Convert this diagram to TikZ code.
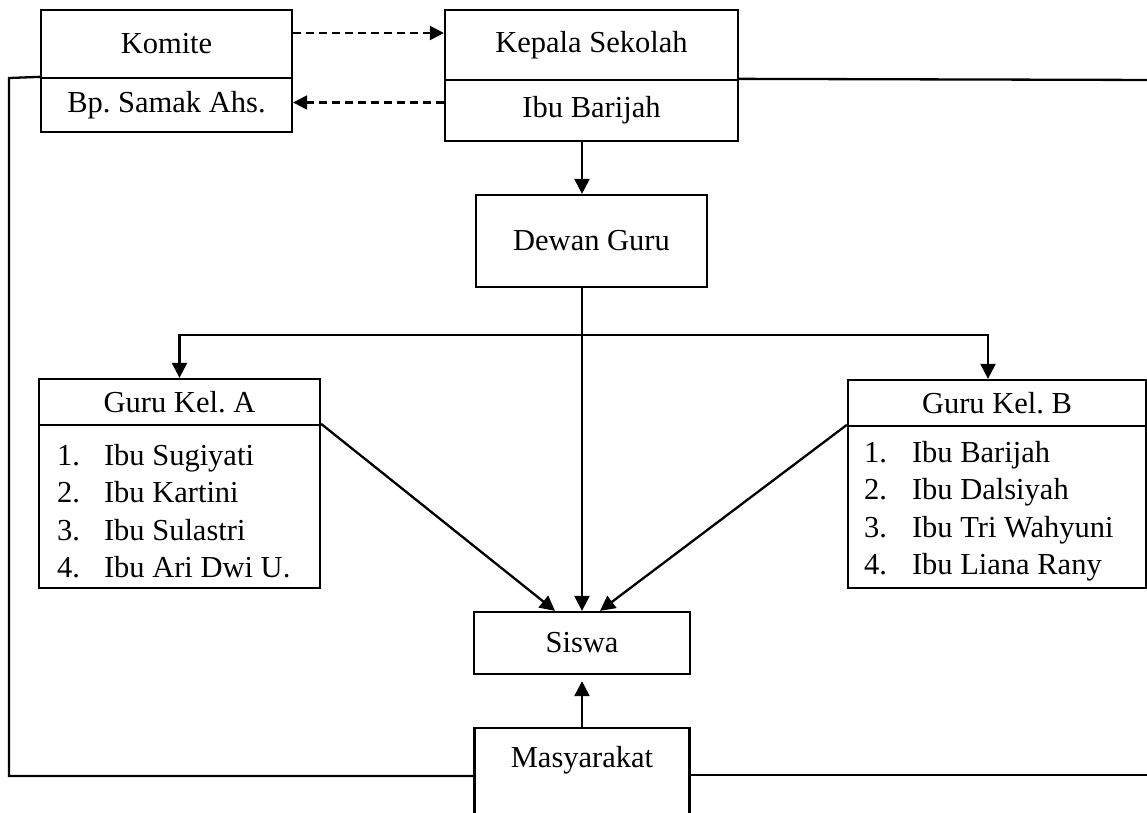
\documentclass[tikz,border=0pt]{standalone}
\usepackage{fontspec}
\setmainfont{Liberation Serif}
\usetikzlibrary{arrows.meta,calc}
\frenchspacing
\begin{document}
\begin{tikzpicture}[x=1pt,y=-1pt,
  box/.style={draw, line width=2.3pt, inner sep=0pt, font=\fontsize{30.5}{37.5}\selectfont},
  txt/.style={inner sep=0pt, font=\fontsize{30.5}{37.5}\selectfont},
  arr/.style={line width=2.3pt, -{Triangle[length=15pt,width=15pt]}},
  darr/.style={line width=2.3pt, dash pattern=on 8pt off 5pt, -{Triangle[length=14pt,width=14pt]}},
  ln/.style={line width=2.3pt}]
\clip (0,0) rectangle (1147,812);
\fill[white] (0,0) rectangle (1147,812);
% boxes
\node[box, minimum width=251pt, minimum height=68pt] (kom1) at (166.5,44) {Komite};
\node[box, minimum width=251pt, minimum height=54pt] (kom2) at (166.5,105) {Bp. Samak Ahs.};
\node[box, minimum width=293pt, minimum height=70pt] (kep1) at (591.5,45) {Kepala Sekolah};
\node[box, minimum width=293pt, minimum height=61pt] (kep2) at (591.5,110.5) {Ibu Barijah};
\node[box, minimum width=231pt, minimum height=92pt] (dewan) at (591.5,241) {Dewan Guru};
\node[box, minimum width=281pt, minimum height=46pt] (ga1) at (179.5,402) {Guru Kel. A};
\node[box, minimum width=281pt, minimum height=163pt] (ga2) at (179.5,506.5) {};
\node[box, minimum width=298pt, minimum height=46pt] (gb1) at (997,403) {Guru Kel. B};
\node[box, minimum width=298pt, minimum height=162pt] (gb2) at (997,507) {};
\node[box, minimum width=216pt, minimum height=62pt] (siswa) at (582,643) {Siswa};
\node[box, minimum width=215pt, minimum height=110pt] (masy) at (582,783) {};
\node[txt] (masyt) at (582,760) {Masyarakat};
% lists
\node[txt, anchor=west, align=left] (gal) at ($(ga2.west)+(19,4.5)$)
  {\makebox[47pt][l]{1.}Ibu Sugiyati\\ \makebox[47pt][l]{2.}Ibu Kartini\\ \makebox[47pt][l]{3.}Ibu Sulastri\\ \makebox[47pt][l]{4.}Ibu Ari Dwi U.};
\node[txt, anchor=west, align=left] (gbl) at ($(gb2.west)+(17,4)$)
  {\makebox[48pt][l]{1.}Ibu Barijah\\ \makebox[48pt][l]{2.}Ibu Dalsiyah\\ \makebox[48pt][l]{3.}Ibu Tri Wahyuni\\ \makebox[48pt][l]{4.}Ibu Liana Rany};
% dashed arrows
\coordinate (d1) at ([yshift=11pt]kom1.east);
\draw[darr] (d1) -- (d1 -| kep1.west);
\coordinate (d2) at ([yshift=8pt]kep2.west);
\draw[darr] (d2) -- (d2 -| kom2.east);
% solid arrows
\draw[arr] (kep2.south -| siswa.north) -- (dewan.north -| siswa.north);
\draw[arr] (dewan.south -| siswa.north) -- (siswa.north);
\coordinate (br) at ($(dewan.south -| siswa.north)+(0,47)$);
\draw[arr] (br) -| (ga1.north);
\draw[arr] (br) -| ([xshift=-9pt]gb1.north);
\draw[arr] (ga2.north east) -- ([xshift=-27pt]siswa.north);
\draw[arr] (gb2.north west) -- ([xshift=18pt]siswa.north);
\draw[arr, shorten >=6pt] (masy.north) -- (siswa.south);
% outer loop
\coordinate (otl) at (9,78);
\coordinate (obl) at (9,776);
\draw[ln] (kom2.north west) -- (otl) -- (obl) -- (obl -| masy.west);
\coordinate (otr) at (1160,80);
\coordinate (obr) at (1160,775);
\draw[ln] (kep2.north east) -- (otr);
\draw[ln] (obr -| masy.east) -- (obr);
\end{tikzpicture}
\end{document}
